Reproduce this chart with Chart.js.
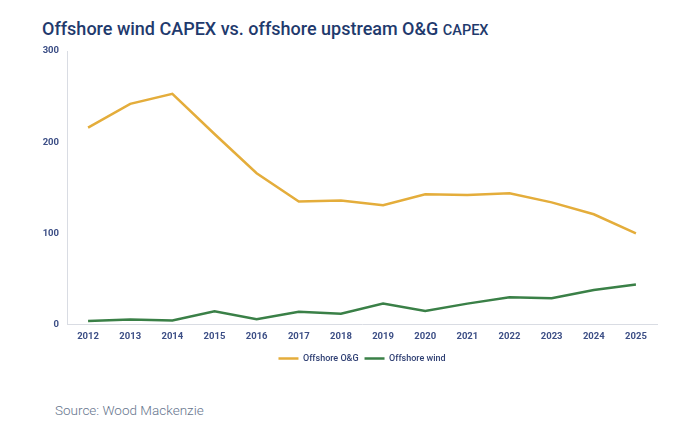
<!DOCTYPE html>
<html>
<head>
<meta charset="utf-8">
<script src="https://cdn.jsdelivr.net/npm/chart.js@4"></script>
<style>
  body { margin: 0; background: #fff; width: 680px; height: 436px; overflow: hidden; position: relative; font-family: Roboto, sans-serif; }
  #title { position: absolute; left: 42px; top: 18px; font-size: 18px; font-weight: 500; color: #1f3a6d; white-space: nowrap; }
  #title small { font-size: 14.5px; }
  #source { position: absolute; left: 55px; top: 402px; font-size: 13.5px; font-weight: 300; color: #66758d; }
  #wrap { position: absolute; left: 0; top: 0; width: 680px; height: 373px; }
</style>
</head>
<body>
<div id="title">Offshore wind CAPEX vs. offshore upstream O&amp;G <small>CAPEX</small></div>
<div id="wrap"><canvas id="myChart"></canvas></div>
<div id="source">Source: Wood Mackenzie</div>
<script>
const years = ['2012', '2013', '2014', '2015', '2016', '2017', '2018', '2019', '2020', '2021', '2022', '2023', '2024', '2025'];
const oilGas = [216, 242, 253, 209, 166, 135, 136, 131, 143, 142, 144, 134, 121, 100];
const wind = [4, 5.5, 4.5, 14.5, 6, 14, 12, 23, 15, 23, 30, 29, 38, 44];
const yTicks = [0, 100, 200, 300];

const tickColor = '#3d4f86';
const axisColor = '#d9dce3';

const ctx = document.getElementById('myChart').getContext('2d');
new Chart(ctx, {
    type: 'line',
    data: {
        labels: years,
        datasets: [{
            label: 'Offshore O&G',
            data: oilGas,
            borderColor: '#e4ad3b',
            backgroundColor: '#e4ad3b',
            borderWidth: 2.5,
            pointRadius: 0,
            tension: 0
        }, {
            label: 'Offshore wind',
            data: wind,
            borderColor: '#3a8047',
            backgroundColor: '#3a8047',
            borderWidth: 2.5,
            pointRadius: 0,
            tension: 0
        }]
    },
    options: {
        responsive: true,
        maintainAspectRatio: false,
        animation: false,
        layout: {
            padding: { top: 51, right: 23, left: 0, bottom: 0 }
        },
        plugins: {
            tooltip: { enabled: false },
            legend: {
                position: 'bottom',
                fullSize: false,
                labels: {
                    usePointStyle: true,
                    pointStyle: 'line',
                    pointStyleWidth: 20,
                    boxHeight: 9,
                    padding: 6,
                    color: '#2f3f73',
                    font: { family: 'Roboto', size: 9, weight: 500 }
                }
            }
        },
        scales: {
            x: {
                offset: true,
                grid: { display: false, drawTicks: false },
                border: { color: axisColor, width: 1 },
                ticks: {
                    color: tickColor,
                    padding: 6,
                    maxRotation: 0,
                    autoSkip: false,
                    font: { family: 'Roboto', size: 9.5, weight: 'bold' }
                }
            },
            y: {
                min: 0,
                max: 300,
                afterBuildTicks: function (scale) {
                    scale.ticks = yTicks.map(v => ({ value: v }));
                },
                afterFit: function (scale) {
                    scale.width = 67;
                },
                grid: { display: false, drawTicks: false },
                border: { color: axisColor, width: 1 },
                ticks: {
                    color: tickColor,
                    padding: 8,
                    font: { family: 'Roboto', size: 9.5, weight: 'bold' }
                }
            }
        }
    }
});
</script>
</body>
</html>
